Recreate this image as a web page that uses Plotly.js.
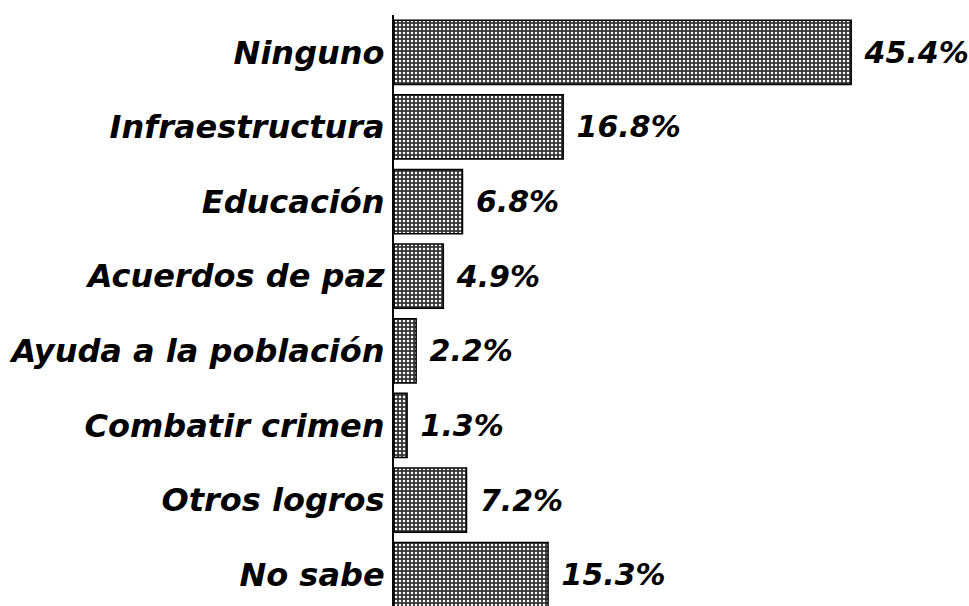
<!DOCTYPE html>
<html>
<head>
<meta charset="utf-8">
<script src="https://cdn.plot.ly/plotly-3.0.1.min.js"></script>
<style>html,body{margin:0;padding:0;background:#fff;}#chart{width:969px;height:606px;}</style>
</head>
<body>
<div id="chart"></div>
<script>
var categories = ["Ninguno", "Infraestructura", "Educación", "Acuerdos de paz", "Ayuda a la población", "Combatir crimen", "Otros logros", "No sabe"];
var values = [45.4, 16.8, 6.8, 4.9, 2.2, 1.3, 7.2, 15.3];
var valueLabels = values.map(function (v) { return " " + v.toFixed(1) + "%"; });

var tickFont = {family: "DejaVu Sans, Verdana, sans-serif", size: 32, color: "#000", weight: 700, style: "italic"};
var valueFont = {family: "DejaVu Sans, Verdana, sans-serif", size: 30, color: "#000", weight: 700, style: "italic"};

var trace = {
  type: "bar",
  orientation: "h",
  y: categories,
  x: values,
  text: valueLabels,
  textposition: "outside",
  cliponaxis: false,
  textfont: valueFont,
  marker: {
    color: "#353535",
    line: {color: "#000", width: 1.5},
    pattern: {shape: ".", fgcolor: "#ffffff", bgcolor: "#353535", size: 4, solidity: 0.3, fillmode: "replace"}
  },
  hoverinfo: "none"
};

var layout = {
  width: 969,
  height: 606,
  margin: {l: 394, r: 0, t: 15, b: 0},
  paper_bgcolor: "#fff",
  plot_bgcolor: "#fff",
  showlegend: false,
  bargap: 0.14,
  xaxis: {range: [0, 57.1], visible: false, fixedrange: true},
  yaxis: {
    type: "category",
    range: [7.42, -0.5],
    showline: true,
    linecolor: "#000",
    linewidth: 2,
    showgrid: false,
    zeroline: false,
    ticks: "",
    ticklabelstandoff: 1,
    tickfont: tickFont,
    fixedrange: true
  }
};

Plotly.newPlot("chart", [trace], layout, {displayModeBar: false, staticPlot: true});
</script>
</body>
</html>
